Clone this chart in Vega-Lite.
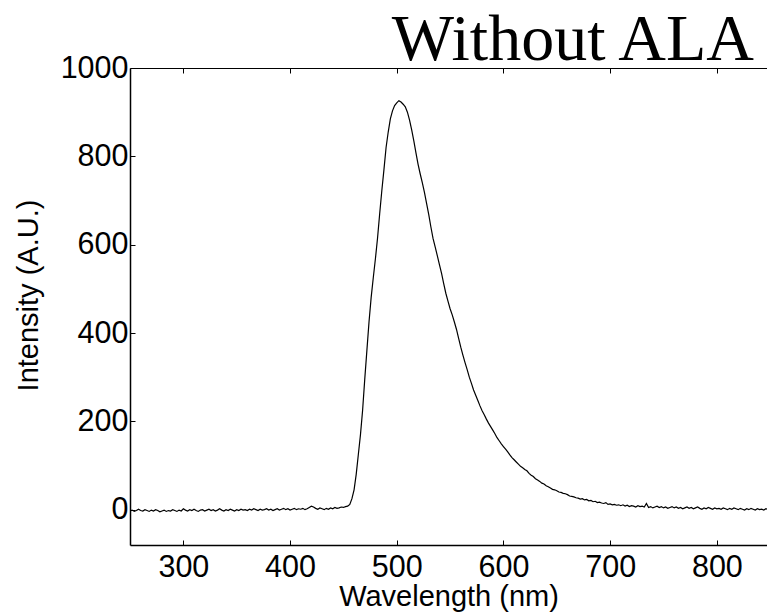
{
  "$schema": "https://vega.github.io/schema/vega-lite/v6.json",
  "width": 637,
  "height": 477,
  "autosize": {"type": "none"},
  "padding": {"left": 130, "top": 68, "right": 0, "bottom": 71},
  "background": "white",
  "title": {
    "text": "Without ALA",
    "font": "Liberation Serif",
    "fontSize": 66,
    "fontWeight": "normal",
    "color": "black",
    "anchor": "end",
    "frame": "group",
    "baseline": "alphabetic",
    "offset": 7,
    "dx": -13,
    "dy": 80
  },
  "config": {
    "view": {"stroke": null},
    "axis": {
      "labelFont": "Liberation Sans",
      "titleFont": "Liberation Sans",
      "labelFontSize": 30.5,
      "titleFontSize": 29,
      "labelColor": "black",
      "titleColor": "black",
      "titleFontWeight": "normal",
      "domainColor": "black",
      "tickColor": "black",
      "grid": false
    }
  },
  "data": {
    "values": [
      {"x":250,"y":-3},{"x":252,"y":-1},{"x":254,"y":-4},{"x":256,"y":-2},{"x":258,"y":1},{"x":260,"y":-2},{"x":262,"y":-3},{"x":264,"y":0},{"x":266,"y":-2},{"x":268,"y":-4},
      {"x":270,"y":-1},{"x":272,"y":-3},{"x":274,"y":0},{"x":276,"y":-2},{"x":278,"y":-5},{"x":280,"y":-3},{"x":282,"y":-1},{"x":284,"y":-4},{"x":286,"y":-2},{"x":288,"y":-3},
      {"x":290,"y":0},{"x":292,"y":-2},{"x":294,"y":-4},{"x":296,"y":-1},{"x":298,"y":-3},{"x":300,"y":2},{"x":302,"y":-1},{"x":304,"y":-3},{"x":306,"y":0},{"x":308,"y":-2},
      {"x":310,"y":1},{"x":312,"y":-2},{"x":314,"y":-4},{"x":316,"y":-1},{"x":318,"y":0},{"x":320,"y":-3},{"x":322,"y":-1},{"x":324,"y":1},{"x":326,"y":-2},{"x":328,"y":0},
      {"x":330,"y":-3},{"x":332,"y":-1},{"x":334,"y":2},{"x":336,"y":-1},{"x":338,"y":-3},{"x":340,"y":0},{"x":342,"y":-2},{"x":344,"y":1},{"x":346,"y":-1},{"x":348,"y":-3},
      {"x":350,"y":0},{"x":352,"y":-2},{"x":354,"y":1},{"x":356,"y":-1},{"x":358,"y":0},{"x":360,"y":-2},{"x":362,"y":1},{"x":364,"y":-1},{"x":366,"y":2},{"x":368,"y":0},
      {"x":370,"y":-2},{"x":372,"y":1},{"x":374,"y":-1},{"x":376,"y":0},{"x":378,"y":2},{"x":380,"y":-1},{"x":382,"y":1},{"x":384,"y":-2},{"x":386,"y":0},{"x":388,"y":2},
      {"x":390,"y":-1},{"x":392,"y":1},{"x":394,"y":3},{"x":396,"y":0},{"x":398,"y":2},{"x":400,"y":-1},{"x":402,"y":1},{"x":404,"y":3},{"x":406,"y":0},{"x":408,"y":2},
      {"x":410,"y":1},{"x":412,"y":3},{"x":414,"y":0},{"x":416,"y":2},{"x":418,"y":5},{"x":420,"y":8},{"x":422,"y":6},{"x":424,"y":3},{"x":426,"y":1},{"x":428,"y":4},
      {"x":430,"y":2},{"x":432,"y":0},{"x":434,"y":3},{"x":436,"y":1},{"x":438,"y":4},{"x":440,"y":2},{"x":442,"y":5},{"x":444,"y":3},{"x":446,"y":4},{"x":448,"y":6},
      {"x":450,"y":5},{"x":452,"y":7},{"x":454,"y":8},{"x":456,"y":12},{"x":458,"y":25},{"x":460,"y":45},{"x":462,"y":80},{"x":464,"y":125},{"x":466,"y":170},{"x":468,"y":225},
      {"x":470,"y":295},{"x":472,"y":360},{"x":474,"y":425},{"x":476,"y":480},{"x":478,"y":525},{"x":480,"y":568},{"x":482,"y":615},{"x":484,"y":670},{"x":486,"y":722},{"x":488,"y":770},
      {"x":490,"y":820},{"x":492,"y":855},{"x":494,"y":885},{"x":496,"y":903},{"x":498,"y":915},{"x":500,"y":921},{"x":502,"y":926},{"x":504,"y":923},{"x":506,"y":918},{"x":508,"y":912},
      {"x":510,"y":900},{"x":512,"y":882},{"x":514,"y":860},{"x":516,"y":835},{"x":518,"y":808},{"x":520,"y":782},{"x":522,"y":760},{"x":524,"y":740},{"x":526,"y":718},{"x":528,"y":693},
      {"x":530,"y":668},{"x":532,"y":640},{"x":534,"y":614},{"x":536,"y":595},{"x":538,"y":575},{"x":540,"y":555},{"x":542,"y":535},{"x":544,"y":512},{"x":546,"y":490},{"x":548,"y":472},
      {"x":550,"y":455},{"x":552,"y":441},{"x":554,"y":425},{"x":556,"y":408},{"x":558,"y":388},{"x":560,"y":368},{"x":562,"y":350},{"x":564,"y":333},{"x":566,"y":317},{"x":568,"y":300},
      {"x":570,"y":286},{"x":572,"y":271},{"x":574,"y":259},{"x":576,"y":247},{"x":578,"y":235},{"x":580,"y":224},{"x":582,"y":215},{"x":584,"y":205},{"x":586,"y":196},{"x":588,"y":188},
      {"x":590,"y":180},{"x":592,"y":172},{"x":594,"y":163},{"x":596,"y":156},{"x":598,"y":149},{"x":600,"y":143},{"x":602,"y":137},{"x":604,"y":131},{"x":606,"y":124},{"x":608,"y":118},
      {"x":610,"y":113},{"x":612,"y":108},{"x":614,"y":103},{"x":616,"y":98},{"x":618,"y":95},{"x":620,"y":91},{"x":622,"y":88},{"x":624,"y":82},{"x":626,"y":78},{"x":628,"y":75},
      {"x":630,"y":70},{"x":632,"y":67},{"x":634,"y":64},{"x":636,"y":60},{"x":638,"y":58},{"x":640,"y":54},{"x":642,"y":52},{"x":644,"y":49},{"x":646,"y":46},{"x":648,"y":45},
      {"x":650,"y":43},{"x":652,"y":40},{"x":654,"y":39},{"x":656,"y":37},{"x":658,"y":36},{"x":660,"y":34},{"x":662,"y":31},{"x":664,"y":30},{"x":666,"y":29},{"x":668,"y":27},
      {"x":670,"y":26},{"x":672,"y":24},{"x":674,"y":25},{"x":676,"y":22},{"x":678,"y":23},{"x":680,"y":20},{"x":682,"y":21},{"x":684,"y":18},{"x":686,"y":19},{"x":688,"y":16},
      {"x":690,"y":17},{"x":692,"y":15},{"x":694,"y":14},{"x":696,"y":16},{"x":698,"y":12},{"x":700,"y":13},{"x":702,"y":11},{"x":704,"y":12},{"x":706,"y":10},{"x":708,"y":11},
      {"x":710,"y":9},{"x":712,"y":11},{"x":714,"y":8},{"x":716,"y":10},{"x":718,"y":7},{"x":720,"y":9},{"x":722,"y":8},{"x":724,"y":6},{"x":726,"y":9},{"x":728,"y":7},
      {"x":730,"y":8},{"x":732,"y":6},{"x":734,"y":14},{"x":736,"y":5},{"x":738,"y":7},{"x":740,"y":4},{"x":742,"y":6},{"x":744,"y":8},{"x":746,"y":5},{"x":748,"y":7},
      {"x":750,"y":4},{"x":752,"y":6},{"x":754,"y":3},{"x":756,"y":5},{"x":758,"y":7},{"x":760,"y":4},{"x":762,"y":6},{"x":764,"y":3},{"x":766,"y":5},{"x":768,"y":2},
      {"x":770,"y":4},{"x":772,"y":6},{"x":774,"y":3},{"x":776,"y":5},{"x":778,"y":2},{"x":780,"y":4},{"x":782,"y":6},{"x":784,"y":3},{"x":786,"y":1},{"x":788,"y":4},
      {"x":790,"y":2},{"x":792,"y":5},{"x":794,"y":3},{"x":796,"y":1},{"x":798,"y":4},{"x":800,"y":2},{"x":802,"y":3},{"x":804,"y":1},{"x":806,"y":4},{"x":808,"y":2},
      {"x":810,"y":0},{"x":812,"y":3},{"x":814,"y":1},{"x":816,"y":4},{"x":818,"y":2},{"x":820,"y":0},{"x":822,"y":3},{"x":824,"y":1},{"x":826,"y":-1},{"x":828,"y":2},
      {"x":830,"y":0},{"x":832,"y":3},{"x":834,"y":1},{"x":836,"y":-1},{"x":838,"y":2},{"x":840,"y":0},{"x":842,"y":1},{"x":844,"y":-1},{"x":846,"y":2},{"x":848,"y":0},{"x":850,"y":1}
    ]
  },
  "layer": [
    {
      "mark": {"type": "line", "color": "black", "strokeWidth": 1.2, "clip": true},
      "encoding": {
        "x": {
          "field": "x", "type": "quantitative",
          "scale": {"domain": [250, 847], "nice": false, "zero": false},
          "axis": {"orient": "bottom", "title": "Wavelength (nm)", "values": [300, 400, 500, 600, 700, 800],
                   "tickSize": -5, "labelPadding": 12, "domainWidth": 1.5, "titlePadding": 0}
        },
        "y": {
          "field": "y", "type": "quantitative",
          "scale": {"domain": [-80, 1000], "nice": false, "zero": false},
          "axis": {"orient": "left", "title": "Intensity (A.U.)", "values": [0, 200, 400, 600, 800, 1000], "format": "d",
                   "tickSize": -5, "labelPadding": 7, "domainWidth": 1.5, "titlePadding": 17, "titleY": 227}
        }
      }
    },
    {
      "mark": {"type": "line", "opacity": 0, "clip": true},
      "encoding": {
        "x": {
          "field": "x", "type": "quantitative",
          "axis": {"orient": "top", "title": null, "labels": false, "values": [300, 400, 500, 600, 700, 800],
                   "tickSize": -5, "domainWidth": 1}
        },
        "y": {"field": "y", "type": "quantitative"}
      }
    }
  ],
  "resolve": {"axis": {"x": "independent"}}
}
